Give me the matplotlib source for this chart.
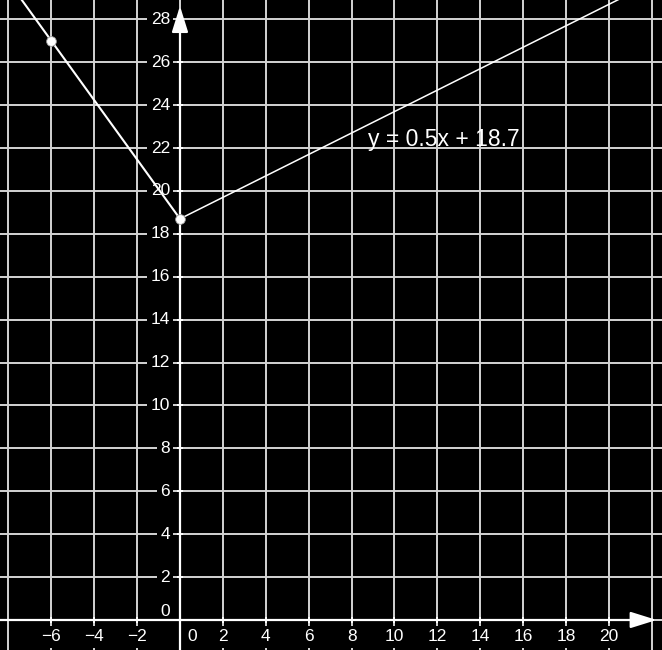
import matplotlib.pyplot as plt
plt.switch_backend('agg')
import numpy as np

plt.rcParams['font.family'] = ['Liberation Sans', 'DejaVu Sans']

# the two segments (GeoGebra-style sketch)
left_x = [-6, 0]
left_y = [27, 18.7]
slope, intercept = 0.5, 18.7
line_label = 'y = 0.5x + 18.7'

x_ticks = [-6, -4, -2, 0, 2, 4, 6, 8, 10, 12, 14, 16, 18, 20]
y_ticks = [0, 2, 4, 6, 8, 10, 12, 14, 16, 18, 20, 22, 24, 26, 28]
grid_x = np.arange(-8, 24, 2)
grid_y = np.arange(0, 30, 2)

xmin, xmax = -8.39, 22.47
ymin, ymax = -1.40, 28.90

fig = plt.figure(figsize=(6.62, 6.5), dpi=100, facecolor='black')
ax = fig.add_axes([0, 0, 1, 1])
ax.set_facecolor('black')
ax.set_xlim(xmin, xmax)
ax.set_ylim(ymin, ymax)
ax.axis('off')

grid_col = '#d4d4d4'
for gx in grid_x:
    ax.axvline(gx, color=grid_col, lw=1.4, zorder=1)
for gy in grid_y:
    ax.axhline(gy, color=grid_col, lw=1.4, zorder=1)

# axes with arrows
ax.plot([xmin, 21.9], [0, 0], color='white', lw=1.6, zorder=4)
ax.plot([0, 0], [ymin, 27.6], color='white', lw=1.6, zorder=4)
ax.annotate('', xy=(22.35, 0), xytext=(21.2, 0),
            arrowprops=dict(arrowstyle='-|>,head_length=1.6,head_width=0.5',
                            color='white', lw=1.6), zorder=5)
ax.annotate('', xy=(0, 28.75), xytext=(0, 27.6),
            arrowprops=dict(arrowstyle='-|>,head_length=1.6,head_width=0.5',
                            color='white', lw=1.6), zorder=5)

# tick labels with black boxes over the grid
box = dict(facecolor='black', edgecolor='none', pad=2.5)
for t in x_ticks:
    lab = str(t).replace('-', '\u2212')
    dx = 12 if t == 0 else 0
    ax.annotate(lab, xy=(t, 0), xytext=(dx, -17), textcoords='offset pixels',
                ha='center', va='center', color='white', fontsize=12.5,
                bbox=box, zorder=3)
for t in y_ticks:
    dy = 8 if t == 0 else 0
    ax.annotate(str(t), xy=(0, t), xytext=(-10, dy), textcoords='offset pixels',
                ha='right', va='center', color='white', fontsize=12.5,
                bbox=box, zorder=3)

# tick marks
ax.plot(x_ticks, [0] * len(x_ticks), ls='none', marker='|', ms=4, mew=1.3,
        color='white', zorder=4)
ax.plot([0] * len(y_ticks), y_ticks, ls='none', marker='_', ms=4, mew=1.3,
        color='white', zorder=4)

# left line, extended past (-6, 27)
m_left = (left_y[1] - left_y[0]) / (left_x[1] - left_x[0])
xl = np.array([xmin, left_x[1]])
ax.plot(xl, left_y[1] + m_left * (xl - left_x[1]), color='white', lw=1.5, zorder=6)

# right line y = 0.5x + 18.7 from x=0
xr = np.array([0, xmax])
ax.plot(xr, slope * xr + intercept, color='white', lw=1.1, zorder=6)

ax.plot(left_x, left_y, ls='none', marker='o', ms=7, color='white',
        markeredgecolor='#999999', mew=0.6, zorder=7)

ax.text(8.75, 22.4, line_label, color='white', fontsize=16.5,
        ha='left', va='center', zorder=6)

fig.savefig('out.png', dpi=100, facecolor='black')
